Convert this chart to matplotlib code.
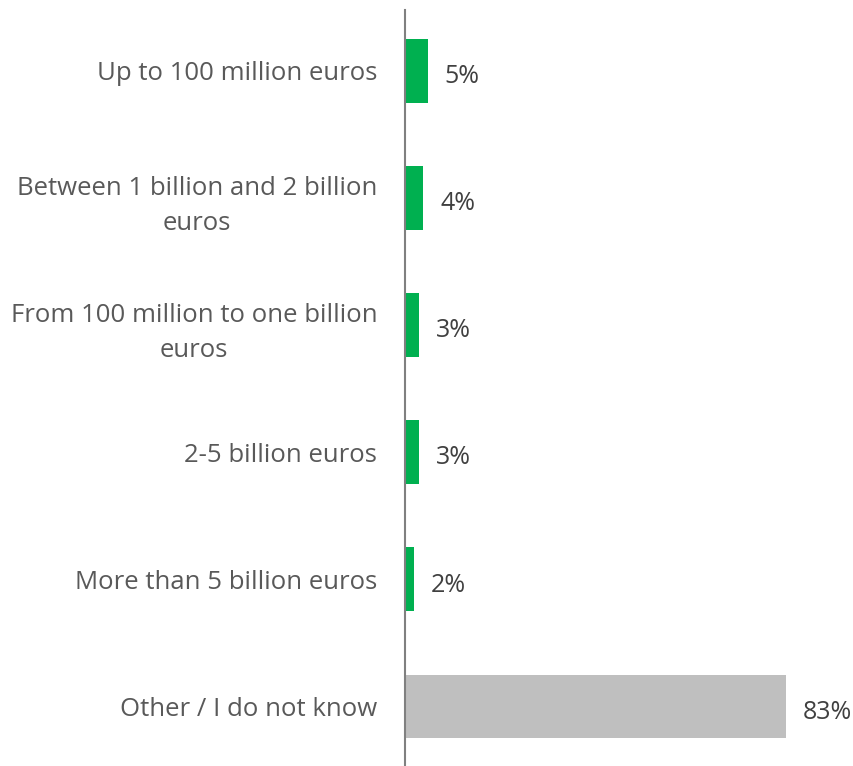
import matplotlib.pyplot as plt

# ----- data -----
categories = ["Up to 100 million euros",
              "Between 1 billion and 2 billion\neuros",
              "From 100 million to one billion\neuros",
              "2-5 billion euros",
              "More than 5 billion euros",
              "Other / I do not know"]
values = [5, 4, 3, 3, 2, 83]
colors = ["#00B050"] * 5 + ["#BFBFBF"]

plt.rcParams['font.family'] = ['Open Sans', 'DejaVu Sans']

fig = plt.figure(figsize=(8.54, 7.66), dpi=100)
ax = fig.add_axes([405/854, 0, 449/854, 1 - 10/766])

ypos = list(range(len(categories)))
ax.barh(ypos, values, height=0.5, color=colors)

# value labels
for y, v in zip(ypos, values):
    ax.annotate(f"{v}%", xy=(v, y), xytext=(12, -2), textcoords="offset points",
                ha="left", va="center_baseline", fontsize=18, color="#404040")

ax.set_xlim(0, 97.8)
ax.set_ylim(5.47, -0.48)
ax.set_yticks(ypos)
ax.set_yticklabels(categories, fontsize=18.5, color="#595959",
                   multialignment="center", linespacing=1.5)
ax.tick_params(axis="y", length=0, pad=20)
ax.set_xticks([])

for s in ["top", "right", "bottom"]:
    ax.spines[s].set_visible(False)
ax.spines["left"].set_color("#808080")
ax.spines["left"].set_linewidth(1.5)

fig.savefig("out.png", dpi=100)
